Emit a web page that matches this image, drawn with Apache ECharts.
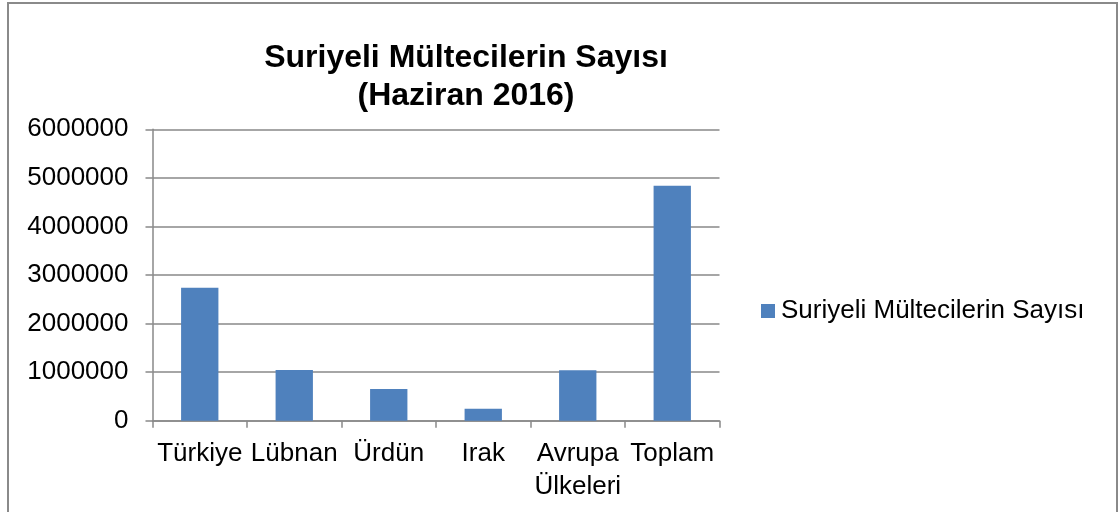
<!DOCTYPE html>
<html>
<head>
<meta charset="utf-8">
<script src="https://cdn.jsdelivr.net/npm/echarts@6/dist/echarts.min.js"></script>
<style>
  html, body { margin: 0; padding: 0; background: #ffffff; }
  #chart { width: 1118px; height: 512px; }
</style>
</head>
<body>
<div id="chart"></div>
<script>
const titleText = 'Suriyeli Mültecilerin Sayısı\n(Haziran 2016)';
const seriesName = 'Suriyeli Mültecilerin Sayısı';
const categories = ['Türkiye', 'Lübnan', 'Ürdün', 'Irak', 'Avrupa\nÜlkeleri', 'Toplam'];
const values = [2740000, 1045000, 655000, 245000, 1040000, 4840000];
const yMin = 0, yMax = 6000000, yInterval = 1000000;

const FONT = '"Liberation Sans", Arial, sans-serif';
const AXIS_GRAY = '#898989';

const chart = echarts.init(document.getElementById('chart'), null, { renderer: 'canvas' });
chart.setOption({
  animation: false,
  backgroundColor: '#ffffff',
  textStyle: { fontFamily: FONT },
  graphic: [{
    type: 'rect',
    shape: { x: 8, y: 3, width: 1109, height: 530 },
    style: { fill: 'none', stroke: '#8a8a8a', lineWidth: 2 },
    silent: true
  }],
  title: {
    text: titleText,
    left: 466,
    textAlign: 'center',
    top: 39,
    padding: 0,
    textStyle: { fontFamily: FONT, fontSize: 32, fontWeight: 'bold', color: '#000', lineHeight: 38 }
  },
  legend: {
    data: [seriesName],
    left: 761,
    top: 298,
    padding: 0,
    itemWidth: 14,
    itemHeight: 14,
    itemGap: 0,
    icon: 'rect',
    textStyle: { fontFamily: FONT, fontSize: 26, color: '#000', padding: [0, 0, 0, 1] }
  },
  grid: { left: 152.5, right: 398.5, top: 129.3, bottom: 91.3, containLabel: false },
  xAxis: {
    type: 'category',
    data: categories,
    axisLine: { lineStyle: { color: AXIS_GRAY, width: 1.5 } },
    axisTick: { show: true, length: 7, alignWithLabel: false, lineStyle: { color: AXIS_GRAY, width: 1.5 } },
    axisLabel: { interval: 0, margin: 17, fontFamily: FONT, fontSize: 26, color: '#000', lineHeight: 33 }
  },
  yAxis: {
    type: 'value',
    min: yMin, max: yMax, interval: yInterval,
    axisLine: { show: true, lineStyle: { color: AXIS_GRAY, width: 1.5 } },
    axisTick: { show: true, length: 7, lineStyle: { color: AXIS_GRAY, width: 1.5 } },
    splitLine: { show: true, lineStyle: { color: AXIS_GRAY, width: 1.5 } },
    axisLabel: { margin: 24, fontFamily: FONT, fontSize: 26, color: '#000', padding: [4, 0, 0, 0], formatter: function (v) { return String(v); } }
  },
  series: [{
    name: seriesName,
    type: 'bar',
    data: values,
    barWidth: '39.5%',
    itemStyle: { color: '#4f81bd' }
  }]
});
</script>
</body>
</html>
